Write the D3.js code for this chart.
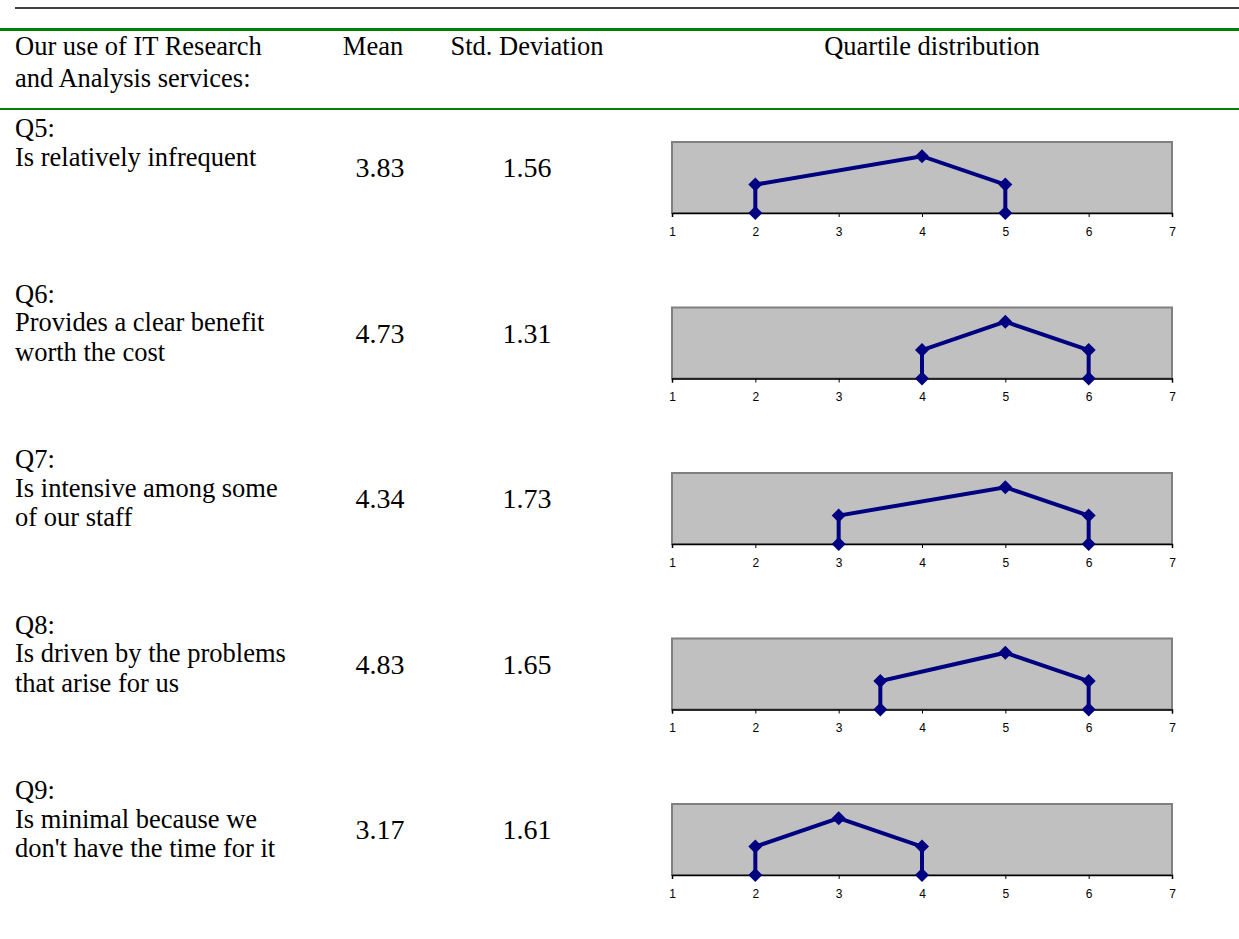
<!DOCTYPE html>
<html>
<head>
<meta charset="utf-8">
<script src="https://cdn.jsdelivr.net/npm/d3@7"></script>
<style>
  html, body { margin: 0; padding: 0; background: #fff; }
  svg { display: block; }
  .serif { font-family: "Liberation Serif", "Times New Roman", serif; fill: #000; }
</style>
</head>
<body>
<svg id="chart" width="1239" height="939"></svg>
<script>
// Survey items
const questions = ["Q5:", "Q6:", "Q7:", "Q8:", "Q9:"];
const statements = [
  ["Is relatively infrequent"],
  ["Provides a clear benefit", "worth the cost"],
  ["Is intensive among some", "of our staff"],
  ["Is driven by the problems", "that arise for us"],
  ["Is minimal because we", "don't have the time for it"]
];
const means = [3.83, 4.73, 4.34, 4.83, 3.17];
const stdDevs = [1.56, 1.31, 1.73, 1.65, 1.61];
// Quartiles: lower quartile, median, upper quartile
const lowerQuartile = [2, 4, 3, 3.5, 2];
const median = [4, 5, 5, 5, 3];
const upperQuartile = [5, 6, 6, 6, 4];
const tickValues = [1, 2, 3, 4, 5, 6, 7];
const headers = ["Mean", "Std. Deviation", "Quartile distribution"];
const titleLines = ["Our use of IT Research", "and Analysis services:"];

const svg = d3.select("#chart");

// Rules at the top of the table
svg.append("line").attr("x1", 15).attr("x2", 1239).attr("y1", 8).attr("y2", 8)
  .attr("stroke", "#000").attr("stroke-width", 1.5);
svg.append("line").attr("x1", 0).attr("x2", 1239).attr("y1", 29.5).attr("y2", 29.5)
  .attr("stroke", "#008000").attr("stroke-width", 3);
svg.append("line").attr("x1", 0).attr("x2", 1239).attr("y1", 109).attr("y2", 109)
  .attr("stroke", "#008000").attr("stroke-width", 2);

// Header row
const textSize = 26.5;
titleLines.forEach((t, i) => {
  svg.append("text").attr("class", "serif").attr("x", 15).attr("y", 55 + i * 32)
    .style("font-size", textSize + "px").text(t);
});
const headerX = [373, 527, 932];
headers.forEach((h, i) => {
  svg.append("text").attr("class", "serif").attr("x", headerX[i]).attr("y", 55)
    .attr("text-anchor", "middle").style("font-size", textSize + "px").text(h);
});

// Shared scales for the quartile mini-charts
const x = d3.scaleLinear().domain([1, 7]).range([672, 1172]);
const rowStep = 165.5;
const plotTop = 142, plotBottom = 213;

const line = d3.line().x(d => x(d[0])).y(d => d[1]);
const marker = d3.symbol().type(d3.symbolSquare).size(98);

questions.forEach((q, i) => {
  const off = i * rowStep;
  const g = svg.append("g");

  // Item label
  g.append("text").attr("class", "serif").attr("x", 15).attr("y", 137 + off)
    .style("font-size", textSize + "px").text(q);
  statements[i].forEach((s, j) => {
    g.append("text").attr("class", "serif").attr("x", 15).attr("y", 165.5 + off + j * 29.5)
      .style("font-size", textSize + "px").text(s);
  });

  // Mean and standard deviation
  g.append("text").attr("class", "serif").attr("x", 380).attr("y", 177 + off)
    .attr("text-anchor", "middle").style("font-size", "28px").text(means[i].toFixed(2));
  g.append("text").attr("class", "serif").attr("x", 527).attr("y", 177 + off)
    .attr("text-anchor", "middle").style("font-size", "28px").text(stdDevs[i].toFixed(2));

  // Quartile chart
  const y = d3.scaleLinear().domain([0, 2.5]).range([plotBottom + off, plotTop + off]);
  g.append("rect")
    .attr("x", x(1)).attr("y", y(2.5))
    .attr("width", x(7) - x(1)).attr("height", y(0) - y(2.5))
    .attr("fill", "#c0c0c0").attr("stroke", "#808080").attr("stroke-width", 2);

  const axis = d3.axisBottom(x).tickValues(tickValues).tickFormat(d3.format("d"))
    .tickSize(4).tickPadding(10);
  const ag = g.append("g").attr("transform", `translate(0,${y(0)})`).call(axis);
  ag.attr("font-family", "'Liberation Sans', Arial, sans-serif").attr("font-size", 12);
  ag.select(".domain").attr("stroke", "#000").attr("stroke-width", 1.5);
  ag.selectAll(".tick line").attr("stroke", "#000");
  ag.selectAll(".tick text").attr("fill", "#000");

  const pts = [
    [lowerQuartile[i], y(0)],
    [lowerQuartile[i], y(1)],
    [median[i], y(2)],
    [upperQuartile[i], y(1)],
    [upperQuartile[i], y(0)]
  ];
  g.append("path").attr("d", line(pts)).attr("fill", "none")
    .attr("stroke", "#000080").attr("stroke-width", 4).attr("stroke-linejoin", "miter");
  g.selectAll("path.marker").data(pts).enter().append("path")
    .attr("class", "marker")
    .attr("transform", d => `translate(${x(d[0])},${d[1]}) rotate(45)`)
    .attr("d", marker).attr("fill", "#000080");
});
</script>
</body>
</html>
